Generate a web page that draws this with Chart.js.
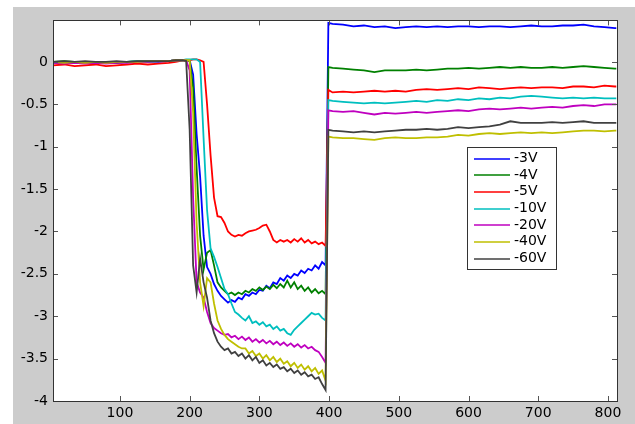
<!DOCTYPE html>
<html>
<head>
<meta charset="utf-8">
<script src="https://cdn.jsdelivr.net/npm/chart.js"></script>
<style>
  html, body { margin: 0; padding: 0; background: #fff; }
  #fig { position: absolute; left: 13px; top: 7px; width: 622px; height: 417px; background: #cccccc; }
  #fig canvas { display: block; }
</style>
</head>
<body>
<div id="fig"><canvas id="myChart" width="622" height="417"></canvas></div>
<script>
// sample positions (x) shared by all traces
const xs = [
  4, 20, 35, 50, 65, 80, 95, 110, 125, 140, 155, 170, 180, 185,
  190, 195, 200, 205, 210, 215, 220, 225, 230, 235,
  240, 245, 250, 255, 260, 265, 270, 275, 280, 285,
  290, 295, 300, 305, 310, 315, 320, 325, 330, 335,
  340, 345, 350, 355, 360, 365, 370, 375, 380, 385,
  390, 395, 399,
  405, 420, 435, 450, 465, 480, 495, 510, 525, 540,
  555, 570, 585, 600, 615, 630, 645, 660, 675, 690,
  705, 720, 735, 750, 765, 780, 795, 810, 812,
];

const v3 = [
  -0.01, 0.00, -0.01, 0.00, -0.01, 0.00, -0.01, 0.00, 0.00, 0.01, 0.00, 0.01, 0.02, 0.02,
  0.02, 0.02, 0.02, -0.15, -0.85, -1.35, -2.05, -2.42, -2.5, -2.62,
  -2.7, -2.76, -2.8, -2.84, -2.81, -2.83, -2.78, -2.8, -2.74, -2.76,
  -2.72, -2.74, -2.69, -2.7, -2.64, -2.67, -2.6, -2.62, -2.55, -2.58,
  -2.52, -2.55, -2.5, -2.52, -2.46, -2.49, -2.44, -2.46, -2.4, -2.44,
  -2.36, -2.4, 0.46,
  0.45, 0.44, 0.42, 0.43, 0.41, 0.42, 0.40, 0.41, 0.42, 0.41,
  0.42, 0.41, 0.42, 0.42, 0.41, 0.42, 0.42, 0.41, 0.42, 0.43,
  0.42, 0.42, 0.43, 0.43, 0.44, 0.42, 0.41, 0.40, 0.40,
];

const v4 = [
  0.00, 0.01, 0.00, -0.01, 0.00, 0.00, -0.01, 0.00, 0.01, 0.00, 0.01, 0.01, 0.02, 0.02,
  0.02, 0.02, 0.01, -0.3, -1.25, -2.05, -2.45, -2.25, -2.22, -2.4,
  -2.6, -2.66, -2.7, -2.74, -2.72, -2.75, -2.72, -2.74, -2.7, -2.72,
  -2.68, -2.7, -2.66, -2.69, -2.65, -2.68, -2.63, -2.67, -2.62, -2.66,
  -2.58, -2.66, -2.6, -2.68, -2.64, -2.7, -2.66, -2.72, -2.68, -2.73,
  -2.7, -2.74, -0.06,
  -0.07, -0.08, -0.09, -0.1, -0.12, -0.1, -0.1, -0.1, -0.09, -0.1,
  -0.09, -0.08, -0.08, -0.07, -0.08, -0.07, -0.06, -0.07, -0.06, -0.07,
  -0.07, -0.06, -0.07, -0.06, -0.05, -0.06, -0.07, -0.08, -0.08,
];

const v5 = [
  -0.04, -0.03, -0.05, -0.04, -0.03, -0.05, -0.04, -0.03, -0.02, -0.03, -0.02, -0.01, 0.00, 0.01,
  0.02, 0.02, 0.02, 0.03, 0.03, 0.02, 0.0, -0.5, -1.1, -1.6,
  -1.82, -1.83, -1.9, -2.0, -2.04, -2.06, -2.04, -2.05, -2.02, -2.0,
  -1.99, -1.98, -1.96, -1.93, -1.92, -2.0, -2.1, -2.13, -2.1, -2.12,
  -2.1, -2.13, -2.09, -2.12, -2.08, -2.13, -2.1, -2.14, -2.12, -2.15,
  -2.13, -2.17, -0.33,
  -0.36, -0.35, -0.36, -0.35, -0.34, -0.35, -0.34, -0.35, -0.33, -0.32,
  -0.33, -0.32, -0.31, -0.32, -0.3, -0.31, -0.32, -0.31, -0.3, -0.31,
  -0.3, -0.3, -0.31, -0.29, -0.29, -0.3, -0.28, -0.29, -0.29,
];

const v10 = [
  -0.01, 0.00, -0.01, 0.00, -0.01, -0.01, 0.00, 0.00, 0.01, 0.00, 0.01, 0.01, 0.02, 0.02,
  0.02, 0.03, 0.03, 0.03, 0.03, 0.0, -0.9, -1.75, -2.2, -2.3,
  -2.42, -2.55, -2.68, -2.74, -2.85, -2.95, -2.98, -3.02, -3.05, -3.0,
  -3.08, -3.06, -3.1, -3.07, -3.12, -3.1, -3.15, -3.12, -3.17, -3.15,
  -3.2, -3.22, -3.16, -3.12, -3.08, -3.04, -3.0, -2.96, -2.98, -2.97,
  -3.02, -3.05, -0.45,
  -0.46, -0.47, -0.48, -0.49, -0.48, -0.49, -0.48, -0.47, -0.46, -0.47,
  -0.45, -0.46, -0.44, -0.45, -0.43, -0.44, -0.42, -0.43, -0.41, -0.4,
  -0.41, -0.42, -0.43, -0.42, -0.43, -0.42, -0.43, -0.43, -0.43,
];

const v20 = [
  -0.01, -0.02, -0.01, -0.02, -0.01, -0.02, -0.01, -0.01, 0.00, 0.00, 0.01, 0.01, 0.02, 0.02,
  0.02, 0.02, -0.1, -1.6, -2.6, -2.72, -2.78, -2.95, -3.08, -3.14,
  -3.17, -3.2, -3.22, -3.21, -3.25, -3.23, -3.27, -3.24, -3.28, -3.25,
  -3.3, -3.27, -3.31, -3.28, -3.32, -3.29, -3.33, -3.3, -3.34, -3.31,
  -3.35, -3.32, -3.36, -3.33, -3.37, -3.34, -3.38, -3.36, -3.4, -3.42,
  -3.48, -3.55, -0.57,
  -0.58, -0.59, -0.58, -0.6, -0.62, -0.6, -0.61, -0.6, -0.59, -0.6,
  -0.59, -0.58, -0.57, -0.58, -0.56, -0.55, -0.56, -0.55, -0.54, -0.55,
  -0.54, -0.53, -0.54, -0.52, -0.51, -0.52, -0.5, -0.5, -0.5,
];

const v40 = [
  0.00, -0.01, 0.00, -0.01, 0.00, -0.01, 0.00, 0.00, 0.00, 0.01, 0.01, 0.01, 0.02, 0.02,
  0.02, 0.02, 0.02, -0.6, -1.9, -2.6, -2.88, -2.55, -2.6, -2.85,
  -3.05, -3.15, -3.22, -3.27, -3.3, -3.33, -3.36, -3.38, -3.38, -3.44,
  -3.41, -3.47, -3.44, -3.5, -3.46, -3.52, -3.48, -3.54, -3.5, -3.56,
  -3.53, -3.59, -3.55, -3.61, -3.57, -3.63, -3.59, -3.65, -3.61, -3.68,
  -3.64, -3.76, -0.88,
  -0.89, -0.9, -0.9, -0.91, -0.92, -0.9, -0.89, -0.9, -0.9, -0.89,
  -0.89, -0.88, -0.86, -0.87, -0.85, -0.84, -0.85, -0.84, -0.83, -0.84,
  -0.83, -0.84, -0.83, -0.82, -0.81, -0.81, -0.82, -0.81, -0.81,
];

const v60 = [
  0.00, 0.01, 0.00, 0.01, 0.00, 0.00, 0.01, 0.00, 0.01, 0.01, 0.01, 0.01, 0.02, 0.02,
  0.02, 0.01, -0.8, -2.4, -2.72, -2.32, -2.6, -2.78, -3.05, -3.2,
  -3.3, -3.36, -3.4, -3.38, -3.44, -3.42, -3.47, -3.44, -3.5, -3.46,
  -3.52, -3.48, -3.55, -3.52, -3.58, -3.55, -3.6, -3.57, -3.62, -3.6,
  -3.65, -3.62, -3.67, -3.64, -3.69, -3.66, -3.71, -3.69, -3.74, -3.72,
  -3.8, -3.87, -0.8,
  -0.81, -0.82, -0.83, -0.82, -0.83, -0.82, -0.81, -0.8, -0.8, -0.79,
  -0.8, -0.79, -0.77, -0.78, -0.77, -0.76, -0.74, -0.7, -0.72, -0.72,
  -0.72, -0.71, -0.72, -0.71, -0.7, -0.72, -0.72, -0.72, -0.72,
];

const seriesNames = ["-3V", "-4V", "-5V", "-10V", "-20V", "-40V", "-60V"];
const seriesValues = [v3, v4, v5, v10, v20, v40, v60];
const colors = ["#0000ff", "#008000", "#ff0000", "#00bfbf", "#bf00bf", "#bfbf00", "#404040"];

const xTicks = [100, 200, 300, 400, 500, 600, 700, 800];
const yTicks = [-4, -3.5, -3, -2.5, -2, -1.5, -1, -0.5, 0];

const datasets = seriesNames.map((name, i) => ({
  label: name,
  data: xs.map((x, k) => ({ x: x, y: seriesValues[i][k] })),
  borderColor: colors[i],
  backgroundColor: colors[i],
  borderWidth: 1.8,
  pointRadius: 0,
  tension: 0,
  // later traces on top, like matlab
  order: seriesNames.length - i,
}));

const FONT = "DejaVu Sans";

const matlabAxes = {
  id: "matlabAxes",
  beforeDraw(chart) {
    const a = chart.chartArea;
    const ctx = chart.ctx;
    ctx.save();
    ctx.fillStyle = "#ffffff";
    ctx.fillRect(a.left, a.top, a.right - a.left, a.bottom - a.top);
    ctx.restore();
  },
  afterDraw(chart) {
    const a = chart.chartArea;
    const ctx = chart.ctx;
    const sx = chart.scales.x;
    const sy = chart.scales.y;
    ctx.save();
    // inward ticks on all four sides
    ctx.strokeStyle = "#555555";
    ctx.lineWidth = 1;
    ctx.beginPath();
    xTicks.forEach((v) => {
      const px = Math.round(sx.getPixelForValue(v)) + 0.5;
      ctx.moveTo(px, a.bottom);
      ctx.lineTo(px, a.bottom - 5);
      ctx.moveTo(px, a.top);
      ctx.lineTo(px, a.top + 5);
    });
    yTicks.forEach((v) => {
      const py = Math.round(sy.getPixelForValue(v)) + 0.5;
      ctx.moveTo(a.left, py);
      ctx.lineTo(a.left + 5, py);
      ctx.moveTo(a.right, py);
      ctx.lineTo(a.right - 5, py);
    });
    ctx.stroke();
    // box
    ctx.strokeStyle = "#333333";
    ctx.strokeRect(Math.round(a.left) + 0.5, Math.round(a.top) + 0.5,
      Math.round(a.right - a.left), Math.round(a.bottom - a.top));

    // legend
    const lx = 454, ly = 140, lw = 89, lh = 122;
    ctx.fillStyle = "#ffffff";
    ctx.fillRect(lx, ly, lw, lh);
    ctx.strokeStyle = "#333333";
    ctx.strokeRect(lx + 0.5, ly + 0.5, lw, lh);
    ctx.font = "14px '" + FONT + "'";
    ctx.textBaseline = "middle";
    ctx.textAlign = "left";
    seriesNames.forEach((name, i) => {
      const y = ly + 11.5 + i * 16.67;
      ctx.strokeStyle = colors[i];
      ctx.lineWidth = 1.5;
      ctx.beginPath();
      ctx.moveTo(lx + 7, Math.round(y));
      ctx.lineTo(lx + 43, Math.round(y));
      ctx.stroke();
      ctx.fillStyle = "#000000";
      ctx.fillText(name, lx + 47, y);
    });
    ctx.restore();
  },
};

const config = {
  type: "line",
  data: { datasets: datasets },
  options: {
    responsive: false,
    animation: false,
    layout: { padding: { top: 12, right: 18, left: 0, bottom: 0 } },
    scales: {
      x: {
        type: "linear",
        min: 4,
        max: 813,
        grid: { display: false, drawTicks: false },
        border: { display: false },
        afterBuildTicks: (s) => { s.ticks = xTicks.map((v) => ({ value: v })); },
        afterFit: (s) => { s.height = 23; },
        ticks: {
          padding: 4,
          color: "#000000",
          font: { family: FONT, size: 14 },
          maxRotation: 0,
          autoSkip: false,
          callback: (v) => String(v),
        },
      },
      y: {
        type: "linear",
        min: -4,
        max: 0.49,
        grid: { display: false, drawTicks: false },
        border: { display: false },
        afterBuildTicks: (s) => { s.ticks = yTicks.map((v) => ({ value: v })); },
        afterFit: (s) => { s.width = 40; },
        ticks: {
          padding: 5,
          color: "#000000",
          font: { family: FONT, size: 14 },
          autoSkip: false,
          callback: (v) => String(v),
        },
      },
    },
    plugins: {
      legend: { display: false },
      title: { display: false },
      tooltip: { enabled: false },
    },
  },
  plugins: [matlabAxes],
};

const myChart = new Chart(document.getElementById("myChart"), config);
</script>
</body>
</html>
